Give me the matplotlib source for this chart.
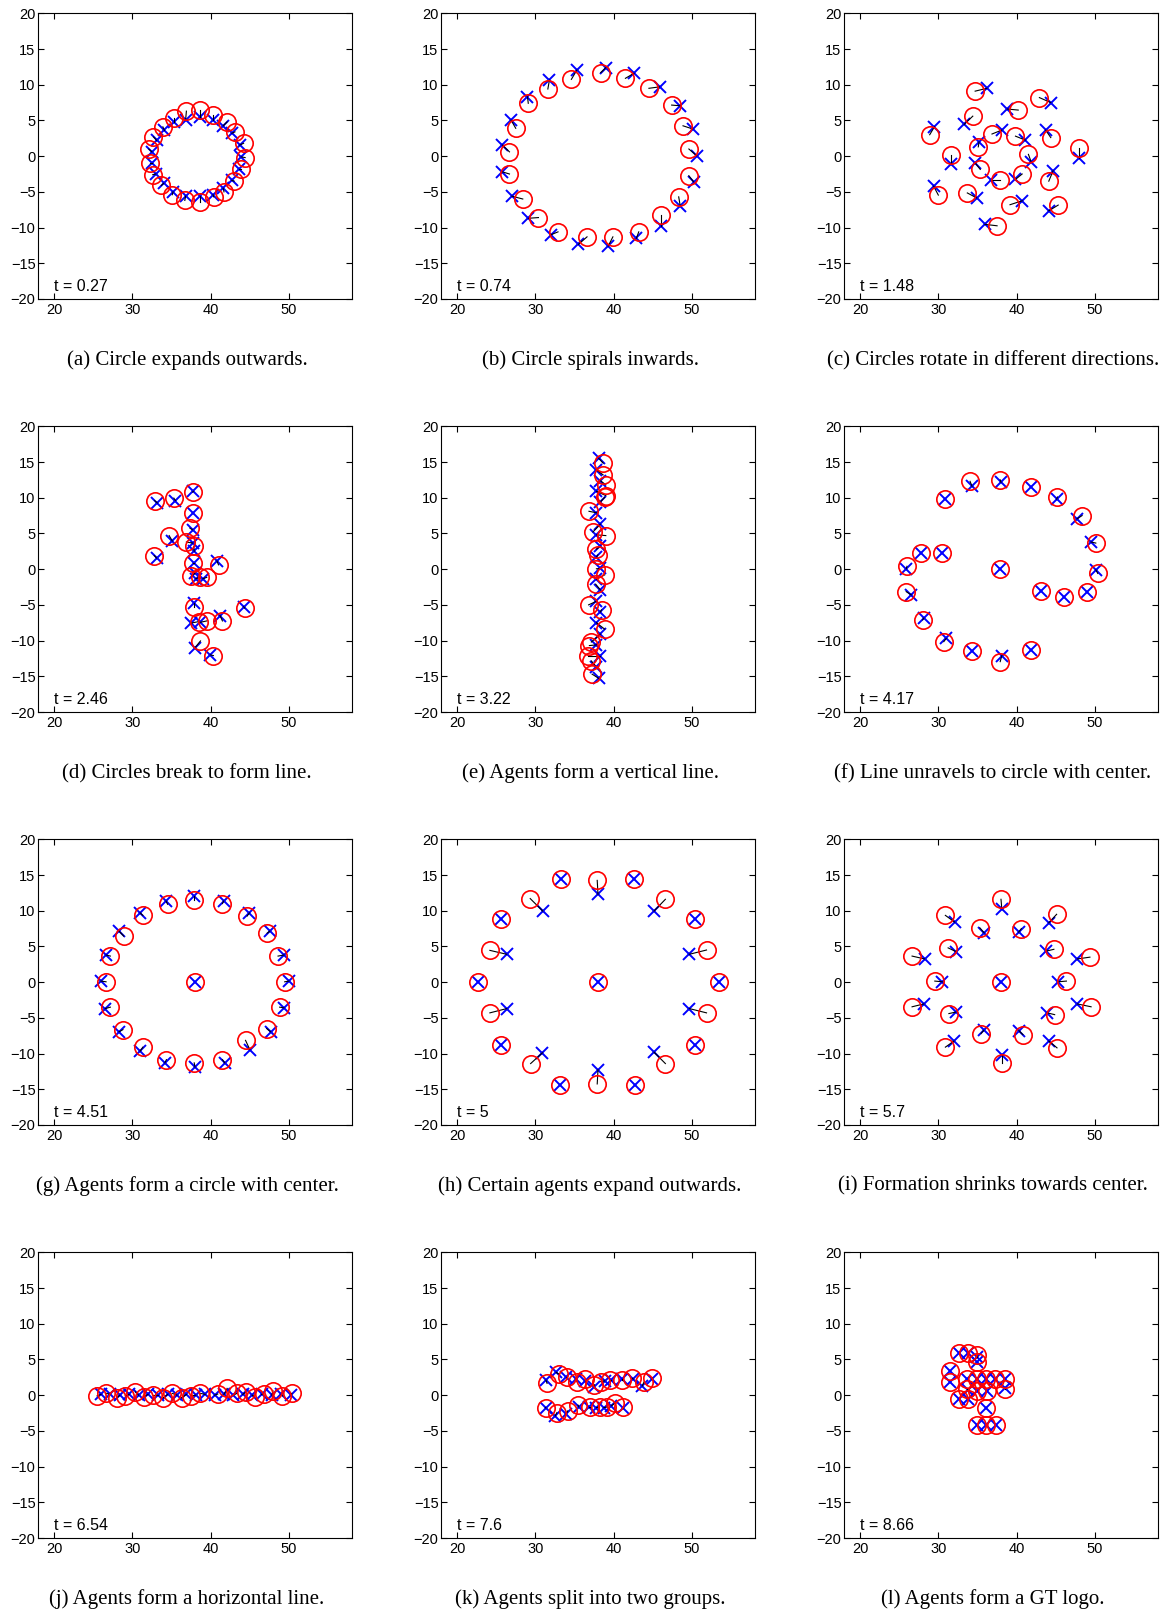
import matplotlib
matplotlib.use('Agg')
import matplotlib.pyplot as plt

# agent positions (red circles) and targets (blue crosses), one set per snapshot
a_cx = [36.9, 38.6, 40.3, 42.1, 43.1, 44.2, 44.4, 43.9, 43.0, 41.7, 40.4, 38.6, 36.7, 35.1, 33.7, 32.6, 32.2, 32.1, 32.7, 33.9, 35.3]
a_cy = [6.3, 6.45, 5.75, 4.8, 3.4, 1.8, -0.2, -1.8, -3.5, -5.0, -5.7, -6.4, -6.2, -5.4, -4.1, -2.6, -1.0, 1.0, 2.7, 4.1, 5.3]
a_tx = [36.8, 38.6, 40.3, 41.6, 42.7, 43.7, 43.9, 43.6, 42.7, 41.6, 40.3, 38.6, 36.8, 35.2, 34.0, 33.0, 32.5, 32.5, 33.1, 34.1, 35.3]
a_ty = [5.05, 5.5, 5.05, 4.25, 3.2, 1.55, -0.1, -1.8, -3.4, -4.5, -5.4, -5.6, -5.6, -5.0, -3.8, -2.5, -1.0, 0.6, 2.2, 3.6, 4.8]

b_cx = [38.35, 41.5, 44.5, 47.4, 48.85, 49.6, 49.6, 48.3, 46.1, 43.2, 39.9, 36.6, 32.9, 30.4, 28.4, 26.7, 26.7, 27.5, 29.1, 31.6, 34.6]
b_cy = [11.7, 10.9, 9.5, 7.15, 4.25, 1.0, -2.75, -5.7, -8.3, -10.6, -11.3, -11.3, -10.6, -8.6, -6.0, -2.5, 0.6, 3.9, 7.4, 9.4, 10.75]
b_tx = [39.0, 42.6, 45.85, 48.5, 50.1, 50.6, 50.2, 48.5, 46.1, 42.9, 39.3, 35.5, 32.0, 29.1, 27.0, 25.8, 25.8, 26.9, 29.0, 31.8, 35.3]
b_ty = [12.4, 11.6, 9.7, 7.05, 3.8, 0.05, -3.6, -7.0, -9.8, -11.5, -12.6, -12.35, -11.0, -8.7, -5.6, -2.2, 1.55, 5.05, 8.3, 10.65, 12.05]

c_cx = [34.7, 42.9, 40.2, 34.4, 28.9, 36.85, 39.85, 44.35, 47.95, 35.1, 41.5, 31.6, 35.35, 40.7, 37.9, 44.1, 33.7, 30.0, 39.15, 45.3, 37.5]
c_cy = [9.1, 8.2, 6.45, 5.6, 3.0, 3.1, 2.8, 2.6, 1.15, 1.3, 0.25, 0.15, -1.85, -2.5, -3.35, -3.5, -5.15, -5.45, -6.8, -6.85, -9.75]
c_tx = [36.2, 44.35, 38.8, 33.3, 29.5, 38.1, 41.1, 43.7, 47.95, 35.2, 41.85, 31.6, 34.7, 39.85, 36.7, 44.65, 34.9, 29.4, 40.7, 44.1, 35.95]
c_ty = [9.5, 7.5, 6.6, 4.45, 4.1, 3.65, 2.25, 3.65, -0.2, 2.0, -0.8, -1.15, -0.95, -3.25, -3.35, -2.05, -5.85, -4.2, -6.25, -7.65, -9.55]

d_cx = [32.85, 35.3, 37.7, 37.8, 37.35, 34.7, 36.9, 37.85, 32.8, 37.7, 41.0, 37.55, 38.65, 39.5, 37.85, 44.35, 38.45, 39.5, 41.5, 38.7, 40.35]
d_cy = [9.6, 9.95, 10.8, 7.85, 5.75, 4.7, 3.8, 3.2, 1.9, 0.85, 0.6, -1.0, -1.1, -1.15, -5.25, -5.45, -7.35, -7.25, -7.25, -10.05, -12.1]
d_tx = [33.2, 35.5, 37.8, 37.8, 37.7, 35.1, 37.7, 37.9, 33.1, 37.9, 40.8, 38.0, 38.1, 39.0, 37.85, 44.2, 37.5, 38.65, 41.2, 38.0, 39.95]
d_ty = [9.25, 9.6, 10.9, 7.85, 5.5, 3.95, 3.65, 2.5, 1.55, 0.85, 1.15, -0.55, -1.35, -1.35, -4.75, -5.25, -7.55, -7.45, -6.5, -11.0, -12.0]

e_cx = [38.65, 38.65, 39.0, 39.0, 38.85, 36.85, 37.35, 39.0, 37.8, 38.0, 37.8, 38.85, 37.7, 36.8, 38.45, 38.85, 37.15, 36.9, 36.7, 37.15, 37.25]
e_cy = [14.85, 13.2, 11.8, 10.3, 10.05, 8.1, 5.2, 4.7, 2.8, 2.0, 0.05, -0.8, -2.1, -5.0, -5.7, -8.4, -10.2, -10.7, -12.1, -12.85, -14.7]
e_tx = [38.1, 37.8, 38.3, 37.8, 38.3, 37.8, 38.3, 37.8, 38.3, 37.8, 38.3, 37.8, 38.3, 37.8, 38.3, 37.8, 38.3, 37.8, 38.3, 37.8, 38.1]
e_ty = [15.5, 13.9, 12.4, 10.9, 9.4, 7.9, 6.3, 4.8, 3.2, 1.7, 0.1, -1.4, -2.9, -4.5, -6.0, -7.5, -9.1, -10.6, -12.1, -13.7, -15.3]

f_cx = [34.05, 37.9, 41.8, 45.2, 48.35, 50.1, 50.35, 48.95, 46.05, 43.05, 37.9, 26.0, 27.8, 30.5, 25.9, 28.0, 30.7, 34.3, 37.9, 41.8, 30.9]
f_cy = [12.3, 12.5, 11.5, 10.1, 7.5, 3.65, -0.6, -3.2, -3.85, -3.05, 0.0, 0.4, 2.25, 2.25, -3.15, -7.1, -10.15, -11.45, -12.95, -11.3, 9.8]
f_tx = [34.3, 38.0, 41.8, 45.1, 47.7, 49.5, 50.1, 49.0, 46.05, 43.05, 37.9, 25.9, 27.8, 30.5, 26.55, 28.15, 31.0, 34.3, 38.1, 41.8, 30.9]
f_ty = [11.6, 12.15, 11.5, 9.8, 7.05, 3.8, -0.1, -3.2, -3.85, -3.05, 0.0, 0.05, 2.25, 2.25, -3.6, -6.85, -9.7, -11.45, -12.1, -11.3, 9.8]

g_cx = [37.9, 41.5, 44.65, 47.2, 48.6, 49.45, 48.8, 47.15, 44.45, 41.5, 37.9, 34.35, 31.35, 28.8, 27.2, 26.65, 27.2, 28.9, 31.35, 34.5, 38.0]
g_cy = [11.45, 11.0, 9.25, 6.85, 3.65, 0.05, -3.5, -6.5, -8.15, -10.85, -11.3, -10.85, -9.1, -6.65, -3.5, 0.05, 3.65, 6.45, 9.35, 10.9, 0.05]
g_tx = [37.9, 41.65, 44.95, 47.55, 49.35, 50.0, 49.35, 47.65, 45.0, 41.8, 38.0, 34.15, 31.0, 28.3, 26.55, 26.0, 26.65, 28.3, 31.0, 34.3, 38.0]
g_ty = [12.05, 11.35, 9.7, 7.15, 3.8, 0.15, -3.6, -6.95, -9.45, -11.3, -11.9, -11.3, -9.65, -6.95, -3.7, 0.15, 3.8, 7.15, 9.7, 11.35, 0.05]

h_cx = [37.9, 42.6, 46.6, 50.35, 51.85, 53.45, 51.85, 50.4, 46.6, 42.7, 37.9, 33.2, 29.4, 25.65, 24.2, 22.65, 24.2, 25.65, 29.35, 33.3, 38.0]
h_cy = [14.25, 14.5, 11.6, 8.9, 4.5, 0.05, -4.3, -8.75, -11.4, -14.35, -14.25, -14.35, -11.4, -8.75, -4.3, 0.05, 4.45, 8.9, 11.7, 14.5, 0.05]
h_tx = [38.0, 42.6, 45.15, 50.35, 49.65, 53.45, 49.65, 50.4, 45.15, 42.7, 38.0, 33.2, 30.9, 25.65, 26.35, 22.65, 26.35, 25.65, 30.95, 33.3, 38.0]
h_ty = [12.3, 14.5, 9.95, 8.9, 3.9, 0.05, -3.7, -8.75, -9.8, -14.35, -12.25, -14.35, -9.9, -8.75, -3.7, 0.05, 3.9, 8.9, 9.95, 14.5, 0.05]

i_cx = [38.0, 45.1, 40.6, 35.3, 30.9, 31.25, 44.75, 26.65, 49.35, 29.55, 46.35, 38.0, 26.65, 49.5, 31.35, 44.85, 35.45, 40.8, 30.9, 45.15, 38.1]
i_cy = [11.6, 9.5, 7.5, 7.6, 9.35, 4.8, 4.6, 3.65, 3.5, 0.15, 0.15, 0.05, -3.45, -3.45, -4.4, -4.55, -7.2, -7.35, -9.1, -9.2, -11.3]
i_tx = [38.1, 44.1, 40.25, 35.85, 32.1, 32.3, 43.8, 28.25, 47.75, 30.5, 45.3, 38.0, 28.15, 47.75, 32.2, 43.9, 35.8, 40.3, 32.0, 44.1, 38.1]
i_ty = [10.3, 8.3, 7.0, 6.9, 8.4, 4.25, 4.35, 3.25, 3.25, 0.05, 0.05, 0.05, -3.05, -3.05, -4.2, -4.3, -6.75, -6.8, -8.25, -8.25, -10.25]

j_cx = [25.5, 26.7, 28.0, 29.1, 30.4, 31.45, 32.7, 33.9, 35.1, 36.3, 37.5, 38.7, 40.9, 42.1, 43.35, 44.5, 45.6, 46.8, 47.95, 49.15, 50.35]
j_cy = [-0.1, 0.25, -0.4, -0.1, 0.45, -0.2, 0.0, -0.4, 0.25, -0.35, -0.1, 0.25, 0.15, 0.95, 0.25, 0.45, -0.2, 0.15, 0.6, -0.1, 0.25]
j_tx = [26.0, 27.2, 28.4, 29.6, 30.8, 32.0, 33.3, 34.5, 35.7, 36.9, 38.1, 39.3, 40.5, 41.7, 42.9, 44.1, 45.3, 46.5, 47.8, 49.0, 50.3]
j_ty = [0.1, 0.1, 0.0, 0.1, 0.0, 0.1, 0.0, 0.1, 0.0, 0.1, 0.0, 0.1, 0.0, 0.1, 0.0, 0.1, 0.0, 0.1, 0.0, 0.1, 0.0]

k_cx = [31.5, 33.0, 34.0, 35.3, 36.3, 37.55, 38.35, 39.5, 41.0, 42.4, 43.9, 44.95, 31.3, 32.75, 34.15, 35.45, 37.0, 38.2, 39.2, 40.15, 41.15]
k_cy = [1.65, 2.95, 2.55, 1.9, 2.25, 1.45, 1.9, 2.1, 2.1, 2.35, 1.9, 2.4, -1.75, -2.45, -2.2, -1.4, -1.65, -1.65, -1.65, -1.15, -1.65]
k_tx = [31.35, 32.65, 33.95, 35.15, 36.3, 37.5, 38.85, 39.7, 41.0, 42.5, 43.65, 44.85, 31.35, 32.55, 33.9, 35.55, 36.85, 37.8, 38.75, 39.7, 41.15]
k_ty = [2.1, 3.2, 2.55, 2.25, 2.0, 1.15, 2.0, 2.1, 2.25, 2.25, 1.3, 2.25, -1.8, -2.9, -2.65, -1.65, -1.65, -1.75, -1.75, -1.5, -1.8]

l_cx = [32.65, 33.85, 35.0, 35.0, 31.45, 31.45, 33.7, 34.9, 36.05, 37.25, 38.45, 38.45, 33.7, 34.9, 36.2, 32.65, 33.85, 36.05, 34.9, 36.05, 37.35]
l_cy = [5.85, 5.85, 5.6, 4.6, 3.4, 1.85, 2.25, 2.25, 2.25, 2.25, 2.25, 0.85, 0.85, 0.6, 0.6, -0.55, -0.55, -1.75, -4.15, -4.15, -4.15]
l_tx = [32.65, 33.85, 35.0, 35.0, 31.45, 31.45, 33.7, 34.9, 36.05, 37.25, 38.45, 38.45, 33.75, 34.95, 36.2, 32.65, 33.85, 36.05, 35.0, 36.1, 37.4]
l_ty = [5.85, 5.85, 5.3, 4.7, 3.4, 1.85, 2.25, 2.25, 2.25, 2.25, 2.25, 0.95, 0.7, 0.6, 0.6, -0.55, -0.55, -1.75, -4.15, -4.15, -4.15]

times = ['0.27', '0.74', '1.48', '2.46', '3.22', '4.17', '4.51', '5', '5.7', '6.54', '7.6', '8.66']
captions = [
    '(a) Circle expands outwards.',
    '(b) Circle spirals inwards.',
    '(c) Circles rotate in different directions.',
    '(d) Circles break to form line.',
    '(e) Agents form a vertical line.',
    '(f) Line unravels to circle with center.',
    '(g) Agents form a circle with center.',
    '(h) Certain agents expand outwards.',
    '(i) Formation shrinks towards center.',
    '(j) Agents form a horizontal line.',
    '(k) Agents split into two groups.',
    '(l) Agents form a GT logo.',
]

panels = [
    (a_cx, a_cy, a_tx, a_ty), (b_cx, b_cy, b_tx, b_ty), (c_cx, c_cy, c_tx, c_ty),
    (d_cx, d_cy, d_tx, d_ty), (e_cx, e_cy, e_tx, e_ty), (f_cx, f_cy, f_tx, f_ty),
    (g_cx, g_cy, g_tx, g_ty), (h_cx, h_cy, h_tx, h_ty), (i_cx, i_cy, i_tx, i_ty),
    (j_cx, j_cy, j_tx, j_ty), (k_cx, k_cy, k_tx, k_ty), (l_cx, l_cy, l_tx, l_ty),
]

W, H = 1173, 1613
col_left = [38.3, 441.3, 844.3]
row_top = [13.3, 426.3, 839.3, 1252.3]
ax_w, ax_h = 313.4, 285.7

plt.rcParams['font.family'] = ['Liberation Sans', 'DejaVu Sans']
fig = plt.figure(figsize=(W / 100, H / 100), dpi=100)

for n, (cx, cy, tx, ty) in enumerate(panels):
    r, c = divmod(n, 3)
    left = col_left[c] / W
    bottom = 1 - (row_top[r] + ax_h) / H
    ax = fig.add_axes([left, bottom, ax_w / W, ax_h / H])

    ax.plot(tx, ty, 'x', color='blue', ms=9, mew=1.4, zorder=2)
    for i in range(len(cx)):
        ax.plot([cx[i], tx[i]], [cy[i], ty[i]], '-', color='black', lw=0.8, zorder=3)
    ax.plot(cx, cy, 'o', mfc='none', mec='red', ms=12.5, mew=1.2, zorder=4)

    ax.text(20, -18.2, 't = ' + times[n], fontsize=11.5, ha='left', va='center')

    ax.set_xlim(18, 58)
    ax.set_ylim(-20, 20)
    ax.set_xticks([20, 30, 40, 50])
    ax.set_yticks([-20, -15, -10, -5, 0, 5, 10, 15, 20])
    ax.tick_params(direction='in', top=True, right=True, length=4, width=0.8,
                   labelsize=10.5, pad=3)
    ax.tick_params(axis='y', pad=2)
    for s in ax.spines.values():
        s.set_linewidth(0.8)

    cap_x = (col_left[c] + ax_w / 2 - 8) / W
    cap_y = 1 - (row_top[r] + 347) / H
    fig.text(cap_x, cap_y, captions[n], ha='center', va='center', fontsize=15,
             family=['Liberation Serif', 'DejaVu Serif'])

fig.savefig('out.png', dpi=100)
